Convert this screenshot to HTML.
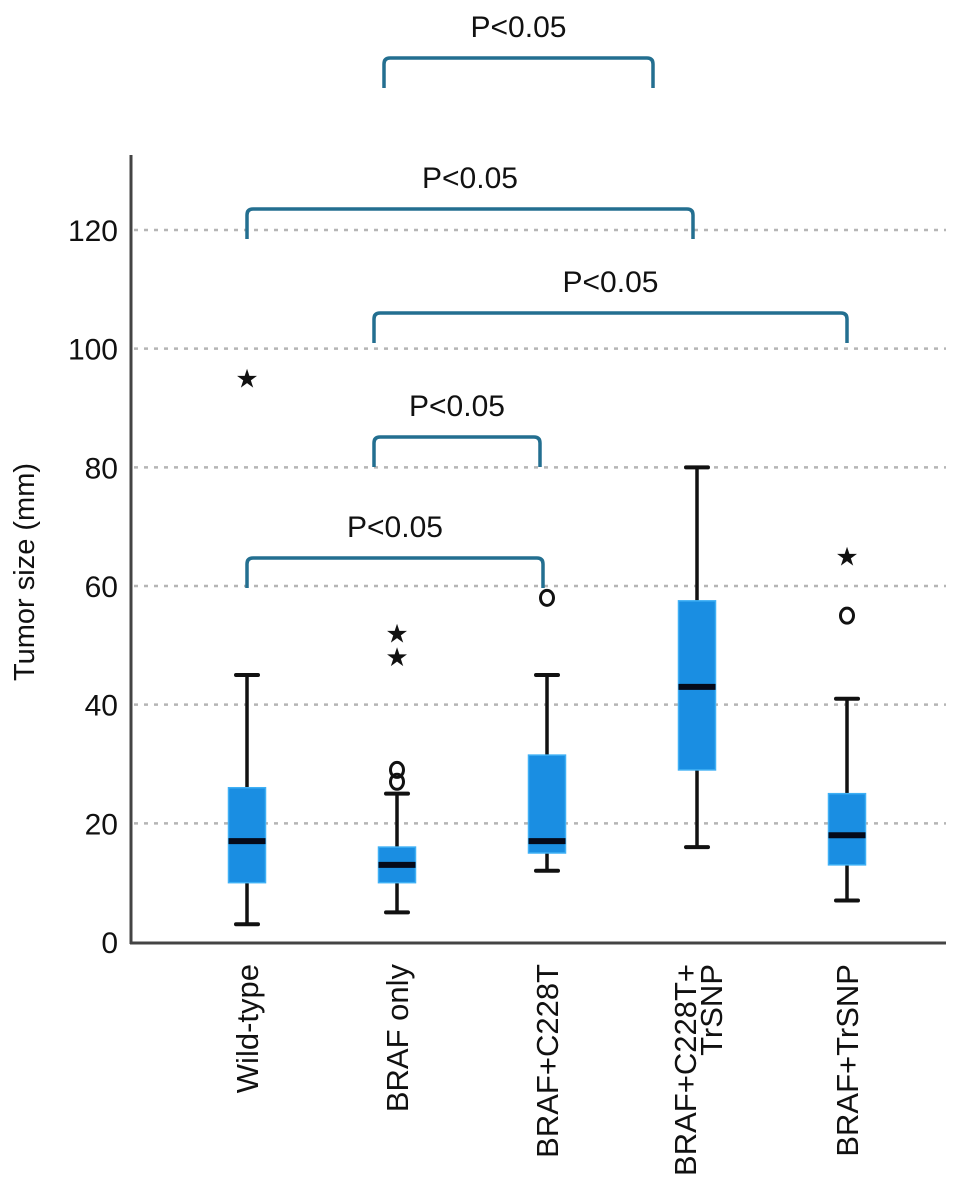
<!DOCTYPE html>
<html><head><meta charset="utf-8"><style>
html,body{margin:0;padding:0;background:#fff;}
svg text{font-family:"Liberation Sans",Arial,sans-serif;fill:#111;}
</style></head><body>
<svg id="chart" width="969" height="1198" viewBox="0 0 969 1198" xmlns="http://www.w3.org/2000/svg"></svg>
<script>
const categories = ["Wild-type","BRAF only","BRAF+C228T","BRAF+C228T+|TrSNP","BRAF+TrSNP"];
const whiskerLow = [3,5,12,16,7];
const q1 = [10,10,15,29,13];
const medians = [17,13,17,43,18];
const q3 = [26,16,31.5,57.5,25];
const whiskerHigh = [45,25,45,80,41];
const circleOutliers = [[],[27,29],[58],[],[55]];
const starOutliers = [[95],[48,52],[],[],[65]];
const yTicks = [0,20,40,60,80,100,120];
// significance brackets: [fromIndex, toIndex, level]
const brackets = [[1,3,"top"],[0,3,120],[1,4,100],[1,2,80],[0,2,60]];
const bracketLabels = ["P<0.05","P<0.05","P<0.05","P<0.05","P<0.05"];

const svg = document.getElementById('chart');
const NS = "http://www.w3.org/2000/svg";
const y0 = 942, pxPer = (942-230)/120;
const yS = v => y0 - v*pxPer;
const xS = i => 247 + i*150;
function el(tag, attrs, parent){const e=document.createElementNS(NS,tag);for(const k in attrs)e.setAttribute(k,attrs[k]);(parent||svg).appendChild(e);return e;}

// grid
yTicks.forEach(t=>{
  if(t>0){
    const g=el('line',{x1:134,x2:946,y1:yS(t),y2:yS(t),stroke:'#b5b5b5','stroke-width':2.5,'stroke-dasharray':'4 6'});
    
    
  }
  const tx=el('text',{x:118,y:yS(t)+11,'text-anchor':'end','font-size':30});
  tx.textContent=t;
  
  
});
// axes
const ya=el('line',{x1:131,x2:131,y1:155,y2:944,stroke:'#444','stroke-width':3});


const xa=el('line',{x1:130,x2:946,y1:943,y2:943,stroke:'#444','stroke-width':3});



const yt=el('text',{x:0,y:0,'text-anchor':'middle','font-size':29,transform:'translate(34,572) rotate(-90)'});
yt.textContent='Tumor size (mm)';



// boxes
categories.forEach((c,i)=>{
  const g=el('g',{});
  
  
  const x=xS(i), hw=18.5;
  el('line',{x1:x,x2:x,y1:yS(whiskerLow[i]),y2:yS(whiskerHigh[i]),stroke:'#111','stroke-width':3.5},g);
  [whiskerLow[i],whiskerHigh[i]].forEach(v=>el('line',{x1:x-11,x2:x+11,y1:yS(v),y2:yS(v),stroke:'#111','stroke-width':4,'stroke-linecap':'round'},g));
  el('rect',{x:x-hw,y:yS(q3[i]),width:hw*2,height:yS(q1[i])-yS(q3[i]),fill:'#1a8ee2',stroke:'#3fb0f5','stroke-width':1.5},g);
  el('line',{x1:x-hw,x2:x+hw,y1:yS(medians[i]),y2:yS(medians[i]),stroke:'#050a1a','stroke-width':6},g);
  circleOutliers[i].forEach(v=>{
    const o=el('ellipse',{cx:x,cy:yS(v),rx:6.5,ry:7.5,fill:'none',stroke:'#111','stroke-width':3});
    
    
  });
  starOutliers[i].forEach(v=>{
    const s=el('text',{x:x,y:yS(v)+9,'text-anchor':'middle','font-size':26,'font-family':'DejaVu Sans'});
    s.textContent='★';
    
    
  });
  // x label
  const parts=c.split('|');
  const lx = parts.length>1 ? x-12 : x;
  const lt=el('text',{x:0,y:0,'text-anchor':'end','font-size':31,transform:`translate(${lx+11},964) rotate(-90)`});
  
  
  parts.forEach((p,k)=>{const ts=el('tspan',{x:0,dy:k===0?0:26},lt);ts.textContent=p;});
});

// brackets
const bTops={"top":58,120:209,100:313,80:437,60:558};
const bEnds=[[384,653],[247,693],[374,847],[374,540],[247,543]];
brackets.forEach((b,k)=>{
  const top=bTops[b[2]], [x1,x2]=bEnds[k], bot=top+30, r=6;
  const p=el('path',{d:`M${x1},${bot} V${top+r} Q${x1},${top} ${x1+r},${top} H${x2-r} Q${x2},${top} ${x2},${top+r} V${bot}`,fill:'none',stroke:'#236f90','stroke-width':3.5});
  
  
  const t=el('text',{x:(x1+x2)/2,y:top-21,'text-anchor':'middle','font-size':30});
  t.textContent=bracketLabels[k];
  
  
});
</script>
</body></html>
